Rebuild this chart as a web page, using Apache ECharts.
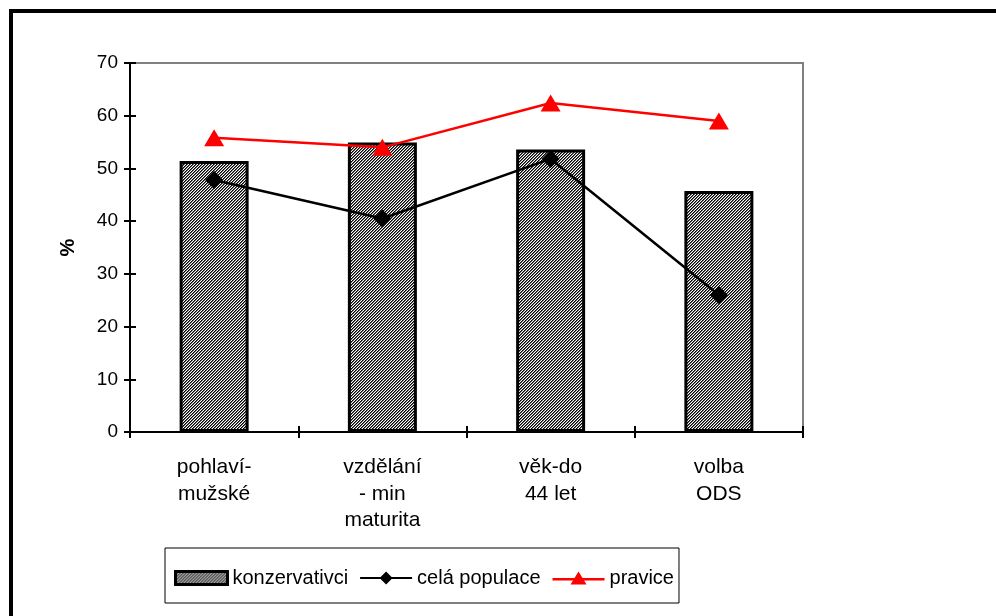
<!DOCTYPE html>
<html>
<head>
<meta charset="utf-8">
<script src="https://cdn.jsdelivr.net/npm/echarts@6/dist/echarts.min.js"></script>
<style>
  html, body { margin: 0; padding: 0; background: #fff; }
  #chart { width: 996px; height: 616px; }
</style>
</head>
<body>
<div id="chart"></div>
<script>
  // hodnoty
  var categories = ['pohlaví-\nmužské', 'vzdělání\n- min\nmaturita', 'věk-do\n44 let', 'volba\nODS']
  var konzervativci = [51.4, 54.9, 53.6, 45.7]
  var celaPopulace = [47.8, 40.5, 51.8, 26.0]
  var pravice = [55.8, 54.0, 62.4, 59.0]
  var yMin = 0, yMax = 70, yStep = 10

  // šrafování sloupců
  var pat = document.createElement('canvas')
  pat.width = 3
  pat.height = 3
  var pc = pat.getContext('2d')
  pc.fillStyle = '#fff'
  pc.fillRect(0, 0, 3, 3)
  for (var i = 0; i < 3; i++) {
    pc.fillStyle = '#000'
    pc.fillRect(i, 2 - i, 1, 1)
    pc.fillStyle = '#6a6a6a'
    pc.fillRect(i, (3 - i) % 3, 1, 1)
  }

  // ikony legendy: čára se značkou
  var iconDiamond = 'path://M0,5.5H52V7.5H0Z M26,0L32.5,6.5L26,13L19.5,6.5Z'
  var iconTriangle = 'path://M0,6.5H52V9H0Z M26,0L34,13H18Z'

  var font = '"Liberation Sans", Arial, sans-serif'
  var chart = echarts.init(document.getElementById('chart'), null, {renderer: 'canvas'})
  chart.setOption({
    animation: false,
    backgroundColor: '#fff',
    textStyle: {fontFamily: font, color: '#000'},
    graphic: [{
      type: 'rect',
      shape: {x: 11, y: 11, width: 1100, height: 800},
      style: {fill: 'none', stroke: '#000', lineWidth: 4},
      silent: true
    }],
    grid: {
      left: 130, top: 63, right: 193, bottom: 184,
      show: true, borderColor: '#808080', borderWidth: 2
    },
    legend: {
      left: 165, top: 548,
      padding: [20, 5, 15, 9],
      borderColor: '#000', borderWidth: 1,
      itemWidth: 52, itemHeight: 13, itemGap: 12,
      textStyle: {fontFamily: font, fontSize: 20, color: '#000'},
      data: [
        {name: 'konzervativci', icon: 'rect', itemStyle: {borderColor: '#000', borderWidth: 3}},
        {name: 'celá populace', icon: iconDiamond, itemStyle: {color: '#000', borderWidth: 0}},
        {name: 'pravice', icon: iconTriangle, itemStyle: {color: '#ff0000', borderWidth: 0}}
      ]
    },
    xAxis: [{
      type: 'category',
      data: categories,
      axisLine: {lineStyle: {color: '#000', width: 2}},
      axisTick: {show: true, length: 6, lineStyle: {color: '#000', width: 2}},
      axisLabel: {fontFamily: font, fontSize: 21, color: '#000', margin: 22, lineHeight: 26.5, align: 'center'}
    }, {
      type: 'category',
      data: categories,
      position: 'bottom',
      axisLine: {show: false},
      axisTick: {show: true, inside: true, length: 6, lineStyle: {color: '#000', width: 2}},
      axisLabel: {show: false}
    }],
    yAxis: [{
      type: 'value',
      min: yMin, max: yMax, interval: yStep,
      name: '%',
      nameLocation: 'middle',
      nameGap: 52,
      nameRotate: 90,
      nameTextStyle: {fontFamily: font, fontSize: 20, fontWeight: 'bold', color: '#000'},
      axisLine: {show: true, lineStyle: {color: '#000', width: 2}},
      axisTick: {show: true, length: 6, lineStyle: {color: '#000', width: 2}},
      axisLabel: {fontFamily: font, fontSize: 19, color: '#000', margin: 12},
      splitLine: {show: false}
    }, {
      type: 'value',
      min: yMin, max: yMax, interval: yStep,
      position: 'left',
      axisLine: {show: false},
      axisTick: {show: true, inside: true, length: 6, lineStyle: {color: '#000', width: 2}},
      axisLabel: {show: false},
      splitLine: {show: false}
    }],
    series: [{
      name: 'konzervativci',
      type: 'bar',
      barWidth: 69,
      data: konzervativci,
      itemStyle: {color: {image: pat, repeat: 'repeat'}, borderColor: '#000', borderWidth: 3}
    }, {
      name: 'celá populace',
      type: 'line',
      data: celaPopulace,
      symbol: 'diamond',
      symbolSize: 18,
      lineStyle: {color: '#000', width: 2.5},
      itemStyle: {color: '#000'}
    }, {
      name: 'pravice',
      type: 'line',
      data: pravice,
      symbol: 'triangle',
      symbolSize: [20, 17],
      lineStyle: {color: '#ff0000', width: 2.5},
      itemStyle: {color: '#ff0000'}
    }]
  })
</script>
</body>
</html>
